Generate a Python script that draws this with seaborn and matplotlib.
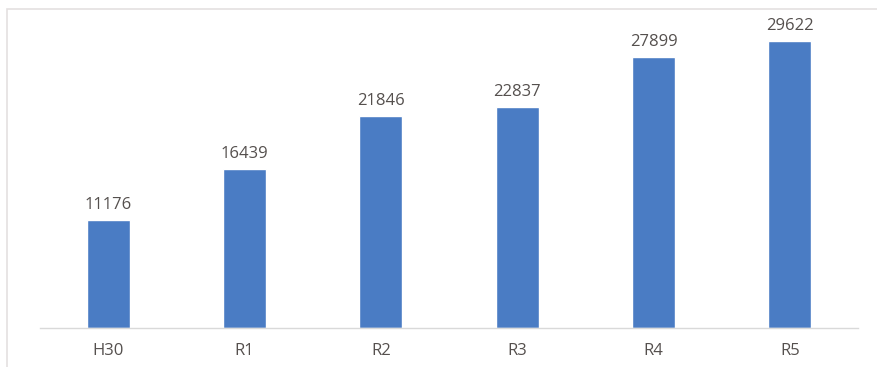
import matplotlib
matplotlib.use("Agg")
import matplotlib.pyplot as plt
import seaborn as sns
import pandas as pd
from matplotlib.patches import Rectangle

# Fiscal years and counts
years = ["H30", "R1", "R2", "R3", "R4", "R5"]
counts = [11176, 16439, 21846, 22837, 27899, 29622]

df = pd.DataFrame({"year": years, "count": counts})

sns.set_theme(style="white")
plt.rcParams["font.family"] = ["Open Sans", "DejaVu Sans"]

W, H = 877, 367
fig = plt.figure(figsize=(W / 100, H / 100), dpi=100)
fig.patch.set_facecolor("white")

# Light frame around the chart area
fig.add_artist(Rectangle((7 / W, -0.05), 1.1, 1 - 9 / H + 0.05,
                         transform=fig.transFigure, fill=False,
                         edgecolor="#e4e0e0", linewidth=1.2))

ax = fig.add_axes([40 / W, 1 - 328 / H, 818 / W, 289 / H])
sns.barplot(data=df, x="year", y="count", color="#4a7cc4", saturation=1,
            width=0.315, ax=ax)

ax.set_ylim(0, 29800)
ax.set_xlim(-0.5, len(years) - 0.5)
ax.set_xlabel("")
ax.set_ylabel("")
ax.set_yticks([])
for side in ["top", "right", "left"]:
    ax.spines[side].set_visible(False)
ax.spines["bottom"].set_color("#d9d9d9")
ax.spines["bottom"].set_linewidth(1.0)
ax.tick_params(axis="x", length=0, pad=11, labelsize=12, labelcolor="#55504e")
ax.set_facecolor("none")

for bar, v in zip(ax.patches, counts):
    ax.annotate(f"{v}", (bar.get_x() + bar.get_width() / 2, bar.get_height()),
                xytext=(0, 5), textcoords="offset points",
                ha="center", va="bottom", fontsize=12, color="#55504e",
                annotation_clip=False)

fig.savefig("out.png", dpi=100)
